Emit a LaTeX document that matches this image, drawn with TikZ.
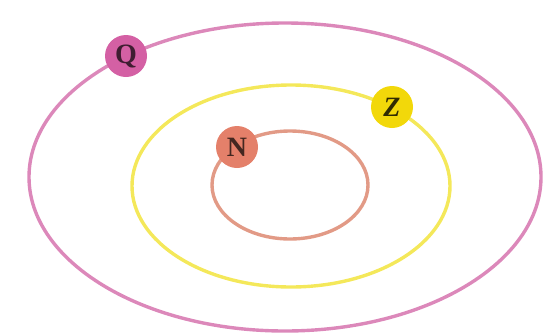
\documentclass[tikz,border=0pt]{standalone}
\usepackage{fontspec}
\setmainfont{Liberation Serif}
\definecolor{pinkline}{HTML}{DC88BA}
\definecolor{pinkfill}{HTML}{D460A4}
\definecolor{yelline}{HTML}{F4E85A}
\definecolor{yelfill}{HTML}{F2D80A}
\definecolor{orline}{HTML}{E29A86}
\definecolor{orfill}{HTML}{E4806A}
\tikzset{
  orbit/.style={line width=3.4pt},
  body/.style={circle, minimum size=42pt, inner sep=0pt, font=\fontsize{28}{28}\selectfont\bfseries}
}
\begin{document}
\begin{tikzpicture}[x=1pt,y=-1pt]
\useasboundingbox (0,0) rectangle (545,335);
\draw[orbit, pinkline] (285,177) ellipse [x radius=256, y radius=154];
\draw[orbit, yelline] (291,186) ellipse [x radius=159, y radius=101];
\draw[orbit, orline] (290,185) ellipse [x radius=78, y radius=54];
\node[body, fill=pinkfill, text={black!70!pinkfill}] (Q) at (126,56) {Q};
\node[body, fill=yelfill, text={black!80!yelfill}] (Z) at (392,107) {\itshape Z};
\node[body, fill=orfill, text={black!70!orfill}] (N) at (237,147) {N};
\end{tikzpicture}
\end{document}
